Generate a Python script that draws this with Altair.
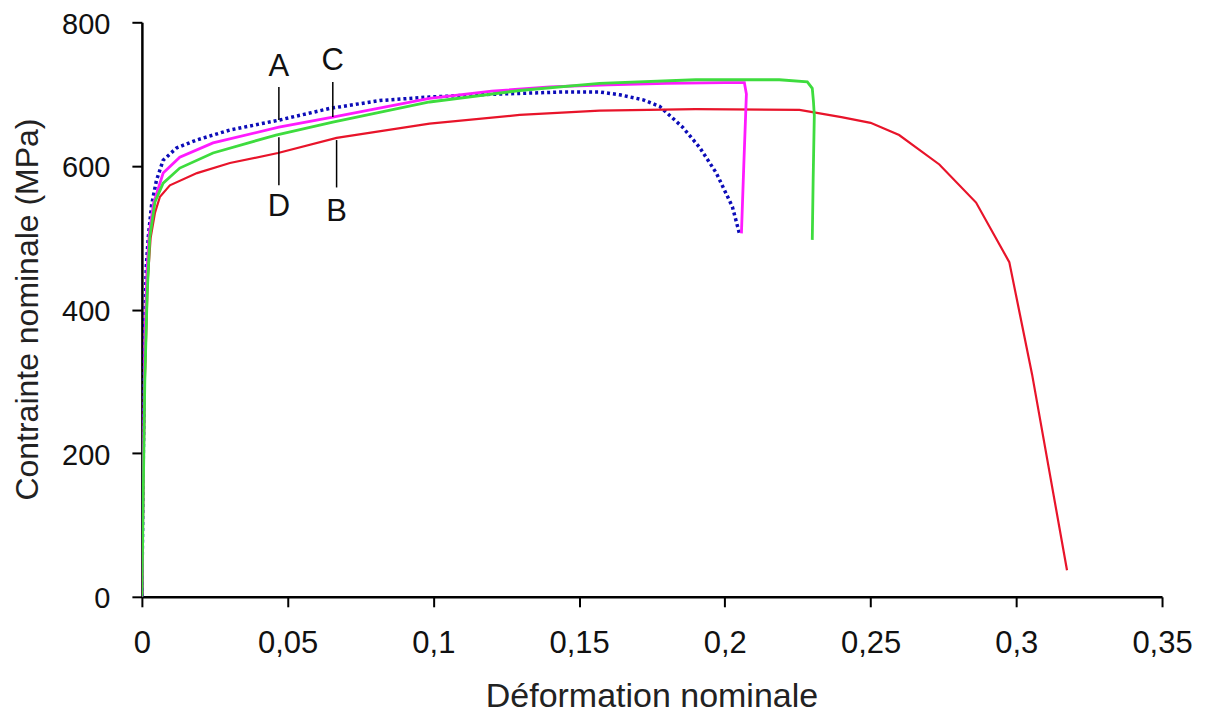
import altair as alt
import pandas as pd

# ---- data ----
eps_A = [0, 0.0005, 0.001, 0.0015, 0.0022, 0.0033, 0.005, 0.0073, 0.0119, 0.0187, 0.0302, 0.0473,
         0.0644, 0.0816, 0.0987, 0.115, 0.1296, 0.145, 0.157, 0.164, 0.172, 0.1776, 0.1855, 0.1913,
         0.1971, 0.2026, 0.2050]
sig_A = [0, 200, 380, 460, 501, 545, 580, 608, 625, 636, 650, 664,
         680, 691, 696, 699, 701, 703, 703, 699, 692, 683, 654, 626,
         590, 543, 506]

eps_B = [0, 0.0005, 0.001, 0.002, 0.003, 0.0045, 0.0062, 0.0096, 0.0189, 0.0302, 0.0467, 0.0668,
         0.0987, 0.1296, 0.157, 0.19, 0.2256, 0.24, 0.25, 0.2598, 0.2736, 0.2862, 0.2976, 0.3054, 0.3174]
sig_B = [0, 150, 300, 440, 500, 535, 557, 573, 590, 604, 618, 639,
         659, 671, 677, 679, 678, 668, 660, 643, 602, 549, 466, 310, 37]

eps_C = [0, 0.0005, 0.001, 0.0017, 0.0025, 0.004, 0.0073, 0.013, 0.0244, 0.047, 0.0655, 0.0987,
         0.12, 0.14, 0.16, 0.18, 0.2, 0.2067, 0.2074, 0.2065, 0.2057]
sig_C = [0, 180, 350, 450, 505, 548, 590, 612, 632, 654, 668, 694,
         704, 710, 713, 715, 716, 716, 700, 600, 506]

eps_D = [0, 0.0005, 0.001, 0.0018, 0.0027, 0.0045, 0.0073, 0.013, 0.0244, 0.046, 0.0655, 0.0987,
         0.1296, 0.157, 0.19, 0.2187, 0.2283, 0.2300, 0.2304, 0.2307, 0.2303, 0.2300]
sig_D = [0, 150, 300, 420, 500, 550, 576, 597, 618, 643, 661, 689,
         705, 715, 720, 720, 717, 708, 690, 670, 580, 497]

# annotation letters and leader lines
label_text = ["A", "C", "D", "B"]
label_eps = [0.047, 0.0655, 0.047, 0.0668]
label_sig = [738, 746, 543, 536]
leader_eps = [0.047, 0.0655, 0.047, 0.0668]
leader_top = [710, 717, 640, 636]
leader_bot = [664, 668, 573, 570]

x_ticks = [0, 0.05, 0.1, 0.15, 0.2, 0.25, 0.3, 0.35]
y_ticks = [0, 200, 400, 600, 800]

series = [
    ("A", eps_A, sig_A, "#0c0cb8", 3.5, [3, 3]),
    ("B", eps_B, sig_B, "#e8142a", 2.2, None),
    ("C", eps_C, sig_C, "#ff1aff", 2.8, None),
    ("D", eps_D, sig_D, "#3edc3e", 2.8, None),
]

FONT = "Liberation Sans"

xscale = alt.Scale(domain=[0, 0.35], nice=False, zero=False)
yscale = alt.Scale(domain=[0, 800], nice=False)

xaxis = alt.Axis(values=x_ticks, title="Déformation nominale", grid=False,
                 labelExpr="replace(format(datum.value, '~g'), '.', ',')",
                 domainColor="black", domainWidth=2.5, tickColor="black", tickWidth=2,
                 tickSize=10, labelPadding=22, labelFontSize=31, labelFont=FONT, labelColor="#111",
                 titleFont=FONT, titleFontSize=34, titleFontWeight="normal", titleColor="#222",
                 titleX=510, titleY=100, titleBaseline="middle", labelFlush=False)
yaxis = alt.Axis(values=y_ticks, title="Contrainte nominale (MPa)", grid=False, format="d",
                 domainColor="black", domainWidth=2.5, tickColor="black", tickWidth=2,
                 tickSize=10, labelPadding=22, labelFontSize=29, labelFont=FONT, labelColor="#111",
                 labelOffset=2,
                 titleFont=FONT, titleFontSize=32, titleFontWeight="normal", titleColor="#222",
                 titleX=-114, titleY=287, titleBaseline="middle", titleAngle=270, labelFlush=False)

X_T = "Déformation nominale"
Y_T = "Contrainte nominale (MPa)"

layers = []
for name, ex, sy, col, w, dash in series:
    df = pd.DataFrame({"eps": ex, "sig": sy, "idx": list(range(len(ex)))})
    kw = dict(color=col, strokeWidth=w, clip=True)
    if dash:
        kw["strokeDash"] = dash
    layers.append(alt.Chart(df).mark_line(**kw).encode(
        x=alt.X("eps:Q", scale=xscale, axis=xaxis, title=X_T),
        y=alt.Y("sig:Q", scale=yscale, axis=yaxis, title=Y_T),
        order="idx:Q"))

lead_df = pd.DataFrame({"eps": leader_eps, "top": leader_top, "bot": leader_bot})
layers.append(alt.Chart(lead_df).mark_rule(color="black", strokeWidth=1.5).encode(
    x=alt.X("eps:Q", scale=xscale, axis=xaxis, title=X_T),
    y=alt.Y("top:Q", scale=yscale, axis=yaxis, title=Y_T),
    y2="bot:Q"))

lab_df = pd.DataFrame({"eps": label_eps, "sig": label_sig, "t": label_text})
layers.append(alt.Chart(lab_df).mark_text(font=FONT, fontSize=31, color="#111",
                                          align="center", baseline="middle").encode(
    x=alt.X("eps:Q", scale=xscale, axis=xaxis, title=X_T),
    y=alt.Y("sig:Q", scale=yscale, axis=yaxis, title=Y_T),
    text="t:N"))

chart = alt.layer(*layers).properties(
    width=1021, height=575,
    padding={"left": 134, "top": 14, "right": 40, "bottom": 123},
    autosize=alt.AutoSizeParams(type="none"),
    background="white",
).configure_view(stroke=None)

chart.save("out.html", embed_options={"renderer": "svg", "actions": False})
